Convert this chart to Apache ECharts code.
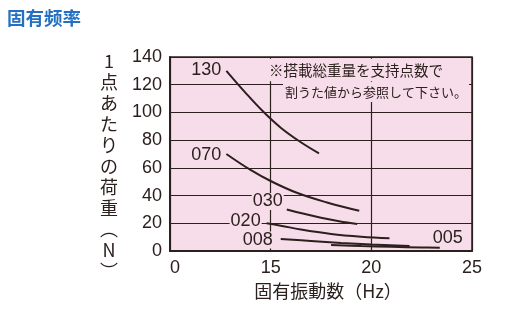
<!DOCTYPE html>
<html>
<head>
<meta charset="utf-8">
<script src="https://cdn.jsdelivr.net/npm/echarts@6/dist/echarts.min.js"></script>
<style>
  html, body { margin: 0; padding: 0; background: #ffffff; }
  #chart { width: 512px; height: 327px; }
</style>
</head>
<body>
<div id="chart"></div>
<script>
// Load per support point (N) against natural frequency (Hz), one curve per model.
const modelNames = ['130', '070', '030', '020', '008', '005'];

const hz130 = [12.8, 13.7, 14.6, 15.5, 16.5, 17.4];
const load130 = [130, 115, 101, 89, 78.5, 70.5];

const hz070 = [12.8, 14.0, 15.0, 16.3, 17.8, 19.4];
const load070 = [70, 58.5, 50.5, 42, 35, 29];

const hz030 = [15.8, 16.6, 17.5, 18.4, 19.3];
const load030 = [30, 27, 24, 21.5, 19.5];

const hz020 = [14.8, 15.5, 16.5, 18.0, 19.5, 20.9];
const load020 = [20, 18.3, 15.5, 12.3, 10.3, 9.2];

const hz008 = [15.5, 17.0, 18.5, 20.0, 21.9];
const load008 = [8.7, 7.2, 5.8, 4.7, 3.6];

const hz005 = [18.0, 19.5, 21.0, 22.5, 23.4];
const load005 = [4.3, 3.6, 3.0, 2.6, 2.4];

// x axis is broken: the first tick stands for 0, the rest are 15, 20, 25 Hz
const xTicks = [10, 15, 20, 25];
const xTickLabels = ['0', '15', '20', '25'];
const yTicks = [0, 20, 40, 60, 80, 100, 120, 140];

const curves = [
  [hz130, load130], [hz070, load070], [hz030, load030],
  [hz020, load020], [hz008, load008], [hz005, load005]
];

const ink = '#2b201d';
const pink = '#f7dde9';
const numFont = '"Liberation Sans", Arial, sans-serif';
const jpFont = '"Noto Sans CJK JP", sans-serif';

// where each model name sits relative to its curve
const labelSpec = [
  { at: 'first', position: 'left', distance: 4, offset: [0, -1] },
  { at: 'first', position: 'left', distance: 4, offset: [0, 1] },
  { at: 'first', position: 'left', distance: 3, offset: [0, -8] },
  { at: 'first', position: 'left', distance: 5, offset: [0, -2] },
  { at: 'first', position: 'left', distance: 7, offset: [0, 1] },
  { at: 'last', position: 'top', distance: 1, offset: [8, 0] }
];

const series = curves.map(([xs, ys], i) => {
  const spec = labelSpec[i];
  const labelIndex = spec.at === 'first' ? 0 : xs.length - 1;
  const data = xs.map((x, j) => {
    const item = { value: [x, ys[j]] };
    if (j === labelIndex) {
      item.label = {
        show: true,
        formatter: modelNames[i],
        position: spec.position,
        distance: spec.distance,
        offset: spec.offset,
        color: ink,
        fontSize: 18,
        fontFamily: numFont,
        backgroundColor: i === 5 ? 'transparent' : pink,
        padding: [0, 1],
        lineHeight: 17
      };
    }
    return item;
  });
  return {
    type: 'line',
    name: modelNames[i],
    data: data,
    smooth: 0.4,
    symbol: 'circle',
    symbolSize: 0,
    showSymbol: true,
    lineStyle: { color: ink, width: 2 },
    itemStyle: { color: ink },
    label: { show: false },
    emphasis: { disabled: true },
    animation: false,
    z: 3
  };
});

const chart = echarts.init(document.getElementById('chart'), null, { renderer: 'canvas' });

chart.setOption({
  animation: false,
  grid: {
    left: 170, right: 40, top: 57, bottom: 76,
    show: true,
    backgroundColor: pink,
    borderColor: ink,
    borderWidth: 1.5
  },
  xAxis: {
    type: 'value',
    min: xTicks[0],
    max: xTicks[xTicks.length - 1],
    interval: 5,
    axisLine: { show: true, lineStyle: { color: ink, width: 2 } },
    axisTick: { show: false },
    splitLine: { show: true, lineStyle: { color: ink, width: 1.2 } },
    axisLabel: {
      color: ink,
      fontSize: 18,
      fontFamily: numFont,
      margin: 8,
      alignMinLabel: 'left',
      formatter: v => xTickLabels[xTicks.indexOf(v)]
    },
    name: '固有振動数（Hz）',
    nameLocation: 'middle',
    nameGap: 31,
    nameTextStyle: { color: ink, fontSize: 18, fontFamily: jpFont, padding: [0, 0, 0, 14] }
  },
  yAxis: {
    type: 'value',
    min: yTicks[0],
    max: yTicks[yTicks.length - 1],
    interval: 20,
    axisLine: { show: true, lineStyle: { color: ink, width: 2 } },
    axisTick: { show: false },
    splitLine: { show: true, lineStyle: { color: ink, width: 1.2 } },
    axisLabel: { color: ink, fontSize: 18, fontFamily: numFont, margin: 8 }
  },
  graphic: [
    {
      type: 'text',
      left: 7, top: 9,
      style: {
        text: '固有频率',
        fill: '#2470c2',
        font: 'bold 18.5px "Noto Sans CJK SC", sans-serif'
      }
    },
    {
      type: 'text',
      x: 109, y: 50.5,
      style: {
        text: ['1', '点', 'あ', 'た', 'り', 'の', '荷', '重', '︵', 'N', '︶'].join('\n'),
        fill: ink,
        font: '18px "Noto Sans CJK JP", sans-serif',
        lineHeight: 21,
        align: 'center',
        verticalAlign: 'top'
      }
    },
    {
      type: 'text',
      x: 267, y: 70, z: 100,
      style: {
        text: '※搭載総重量を支持点数で',
        fill: ink,
        font: '14.5px "Noto Sans CJK JP", sans-serif',
        verticalAlign: 'middle',
        backgroundColor: pink,
        padding: [3, 2, 5, 2]
      }
    },
    {
      type: 'text',
      x: 283, y: 92, z: 100,
      style: {
        text: '割うた値から参照して下さい。',
        fill: ink,
        font: '13px "Noto Sans CJK JP", sans-serif',
        verticalAlign: 'middle',
        backgroundColor: pink,
        padding: [4, 2, 3, 2]
      }
    }
  ],
  series: series
});
</script>
</body>
</html>
